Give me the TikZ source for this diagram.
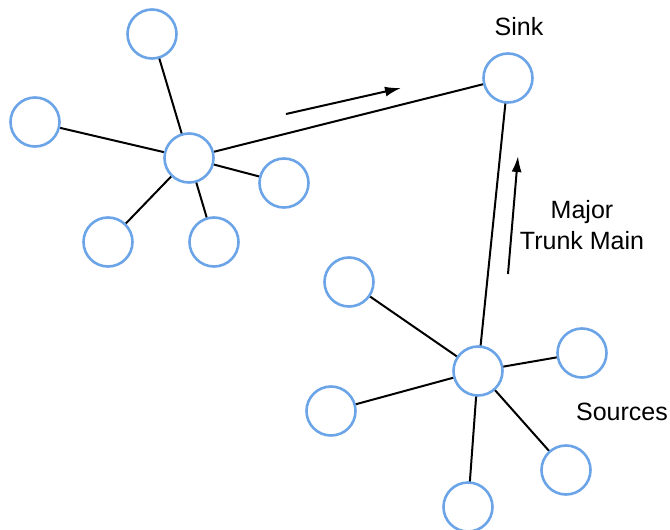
\documentclass[tikz,border=0pt]{standalone}
\usepackage{fontspec}
\setmainfont{Liberation Sans}
\usetikzlibrary{arrows.meta}
\definecolor{nodeblue}{RGB}{108,164,232}
\tikzset{
  station/.style = {
    circle, draw=nodeblue, line width=2.6pt, fill=white,
    minimum size=49pt, inner sep=0pt
  },
  pipe/.style = {line width=2pt, black},
  label/.style = {font=\fontsize{25}{31}\selectfont, align=center}
}
\tikzset{>={Latex[length=16pt,width=10pt]}}

\begin{document}
\begin{tikzpicture}[x=1pt,y=-1pt]
  \useasboundingbox (0,0) rectangle (670,530);
  % pipes first, stations on top
  \coordinate (hubA) at (189,158);
  \coordinate (hubB) at (478,371);
  \coordinate (sinkpos) at (508,78);
  \draw[pipe] (hubA) -- (sinkpos);
  \draw[pipe] (hubB) -- (sinkpos);
  \foreach \X/\Y in {152/34, 35/122, 284/183, 108/242, 214/242} {
    \draw[pipe] (hubA) -- (\X,\Y);
  }
  \foreach \X/\Y in {349/282, 582/353, 331/411, 566/470, 468/507} {
    \draw[pipe] (hubB) -- (\X,\Y);
  }
  % stations
  \node[station] (a) at (hubA) {};
  \foreach \X/\Y [count=\i] in {152/34, 35/122, 284/183, 108/242, 214/242} {
    \node[station] (a\i) at (\X,\Y) {};
  }
  \node[station] (b) at (hubB) {};
  \foreach \X/\Y [count=\i] in {349/282, 582/353, 331/411, 566/470, 468/507} {
    \node[station] (b\i) at (\X,\Y) {};
  }
  \node[station] (sink) at (sinkpos) {};
  % flow arrows
  \coordinate (fa1) at (286,114);
  \coordinate (fa2) at (401,88);
  \coordinate (fb1) at (508,274);
  \coordinate (fb2) at (518,156);
  \draw[pipe,->] (fa1) -- (fa2);
  \draw[pipe,->] (fb1) -- (fb2);
  % labels
  \node[label] (sinktext) at (519,27) {Sink};
  \node[label] (trunktext) at (582,225) {Major\\Trunk Main};
  \node[label] (sourcetext) at (622,412) {Sources};
\end{tikzpicture}
\end{document}
